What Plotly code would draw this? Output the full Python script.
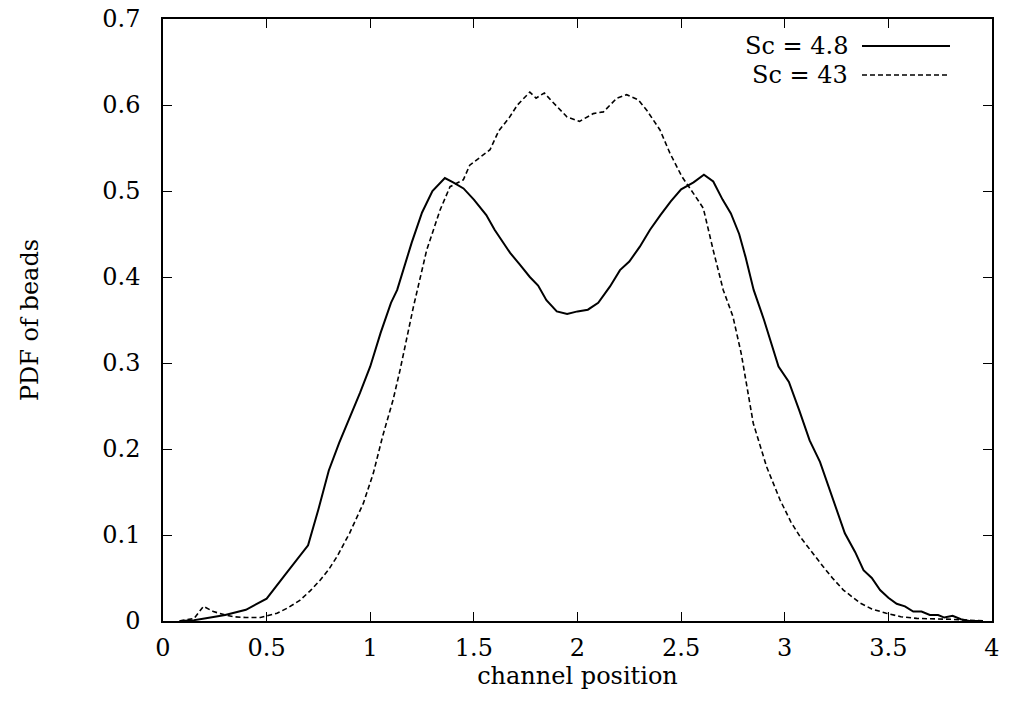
import plotly.graph_objects as go

# Sc = 4.8 (solid)
x_sc48 = [0.08, 0.15, 0.2, 0.3, 0.4, 0.5, 0.6, 0.7, 0.75, 0.8, 0.85, 0.9, 0.95, 1.0, 1.05, 1.1,
          1.13, 1.2, 1.25, 1.3, 1.36, 1.4, 1.45, 1.5, 1.56, 1.6, 1.675, 1.72, 1.77, 1.81, 1.85,
          1.9, 1.95, 2.0, 2.05, 2.1, 2.157, 2.205, 2.25, 2.3, 2.35, 2.4, 2.45, 2.5, 2.56, 2.61,
          2.655, 2.7, 2.74, 2.78, 2.81, 2.85, 2.9, 2.97, 3.02, 3.07, 3.12, 3.17, 3.21, 3.25,
          3.29, 3.34, 3.38, 3.42, 3.46, 3.5, 3.54, 3.58, 3.62, 3.66, 3.7, 3.74, 3.77, 3.81,
          3.85, 3.89, 3.95]
y_sc48 = [0.0, 0.001, 0.003, 0.007, 0.013, 0.026, 0.057, 0.088, 0.13, 0.175, 0.207, 0.235, 0.265,
          0.296, 0.335, 0.37, 0.385, 0.44, 0.475, 0.5, 0.515, 0.51, 0.503, 0.49, 0.472, 0.455,
          0.428, 0.415, 0.40, 0.39, 0.373, 0.36, 0.357, 0.36, 0.362, 0.37, 0.389, 0.408, 0.418,
          0.435, 0.455, 0.472, 0.488, 0.502, 0.51, 0.519, 0.511, 0.49, 0.474, 0.45, 0.424, 0.385,
          0.35, 0.296, 0.278, 0.245, 0.21, 0.185, 0.158, 0.13, 0.102, 0.08, 0.059, 0.05, 0.036,
          0.027, 0.02, 0.017, 0.011, 0.011, 0.007, 0.007, 0.004, 0.006, 0.002, 0.0, 0.0]

# Sc = 43 (dashed)
x_sc43 = [0.08, 0.15, 0.195, 0.243, 0.3, 0.34, 0.4, 0.47, 0.55, 0.6, 0.66, 0.71, 0.76, 0.8, 0.84,
          0.9, 0.967, 1.015, 1.06, 1.11, 1.144, 1.208, 1.272, 1.337, 1.385, 1.449, 1.48, 1.53,
          1.578, 1.62, 1.67, 1.71, 1.77, 1.8, 1.84, 1.87, 1.91, 1.95, 2.01, 2.076, 2.125, 2.19,
          2.237, 2.293, 2.334, 2.398, 2.446, 2.503, 2.56, 2.607, 2.655, 2.703, 2.75, 2.79, 2.848,
          2.913, 2.977, 3.03, 3.074, 3.13, 3.186, 3.23, 3.283, 3.363, 3.42, 3.49, 3.56, 3.637,
          3.8, 3.97]
y_sc43 = [0.0, 0.003, 0.017, 0.011, 0.007, 0.005, 0.004, 0.004, 0.009, 0.015, 0.024, 0.035, 0.048,
          0.06, 0.075, 0.102, 0.137, 0.172, 0.215, 0.257, 0.292, 0.365, 0.431, 0.478, 0.505,
          0.513, 0.53, 0.539, 0.548, 0.57, 0.585, 0.6, 0.615, 0.608, 0.614, 0.606, 0.596, 0.586,
          0.581, 0.59, 0.592, 0.608, 0.612, 0.606, 0.594, 0.571, 0.544, 0.517, 0.497, 0.48,
          0.431, 0.385, 0.354, 0.311, 0.23, 0.179, 0.141, 0.115, 0.098, 0.08, 0.063, 0.05, 0.036,
          0.021, 0.014, 0.009, 0.005, 0.003, 0.002, 0.0]

series_names = ["Sc = 4.8", "Sc = 43"]
x_ticks = [0, 0.5, 1, 1.5, 2, 2.5, 3, 3.5, 4]
x_tick_text = ["0", "0.5", "1", "1.5", "2", "2.5", "3", "3.5", "4"]
y_ticks = [0, 0.1, 0.2, 0.3, 0.4, 0.5, 0.6, 0.7]
y_tick_text = ["0", "0.1", "0.2", "0.3", "0.4", "0.5", "0.6", "0.7"]

FONT = "DejaVu Serif"
FS = 24
DASH = "5px,3px"

fig = go.Figure()
fig.add_trace(go.Scatter(x=x_sc48, y=y_sc48, mode="lines", name=series_names[0],
                         line=dict(color="black", width=2, dash="solid")))
fig.add_trace(go.Scatter(x=x_sc43, y=y_sc43, mode="lines", name=series_names[1],
                         line=dict(color="black", width=1.6, dash=DASH)))

axis_common = dict(showline=True, linecolor="black", linewidth=1.5, mirror="ticks",
                   ticks="inside", ticklen=9, tickwidth=1.3, tickcolor="black",
                   showgrid=False, zeroline=False, ticklabeloverflow="allow",
                   tickfont=dict(family=FONT, size=FS, color="black"))

fig.update_xaxes(range=[0, 4], tickvals=x_ticks, ticktext=x_tick_text, ticklabelstandoff=4,
                 title=dict(text="channel position", font=dict(family=FONT, size=FS, color="black"),
                            standoff=7),
                 **axis_common)
fig.update_yaxes(range=[0, 0.7], tickvals=y_ticks, ticktext=y_tick_text, ticklabelstandoff=16,
                 title=dict(text="PDF of beads", font=dict(family=FONT, size=FS, color="black"),
                            standoff=57),
                 **axis_common)

# legend drawn in the top-right corner (text then line sample); pixel helpers
W, H = 829.0, 602.0
def px(xp):
    return (xp - 163) / W
def py(yp):
    return (621 - yp) / H

legend_rows = [(46, "solid", 2), (75, DASH, 1.6)]
for (yrow, dash, w), name in zip(legend_rows, series_names):
    fig.add_annotation(xref="paper", yref="paper", x=px(850), y=py(yrow), text=name,
                       showarrow=False, xanchor="right", yanchor="middle",
                       font=dict(family=FONT, size=FS, color="black"))
    fig.add_shape(type="line", xref="paper", yref="paper", x0=px(862), x1=px(950),
                  y0=py(yrow), y1=py(yrow),
                  line=dict(color="black", width=w, dash=dash))

fig.update_layout(width=1009, height=723, showlegend=False,
                  paper_bgcolor="white", plot_bgcolor="white",
                  margin=dict(l=163, r=17, t=19, b=102, autoexpand=False),
                  font=dict(family=FONT, color="black"))

# remove the default page margin so the figure sits at the window's top-left corner
fig.write_html("out.html", config={"displayModeBar": False},
               post_script="document.body.style.margin='0';document.body.style.overflow='hidden';")
